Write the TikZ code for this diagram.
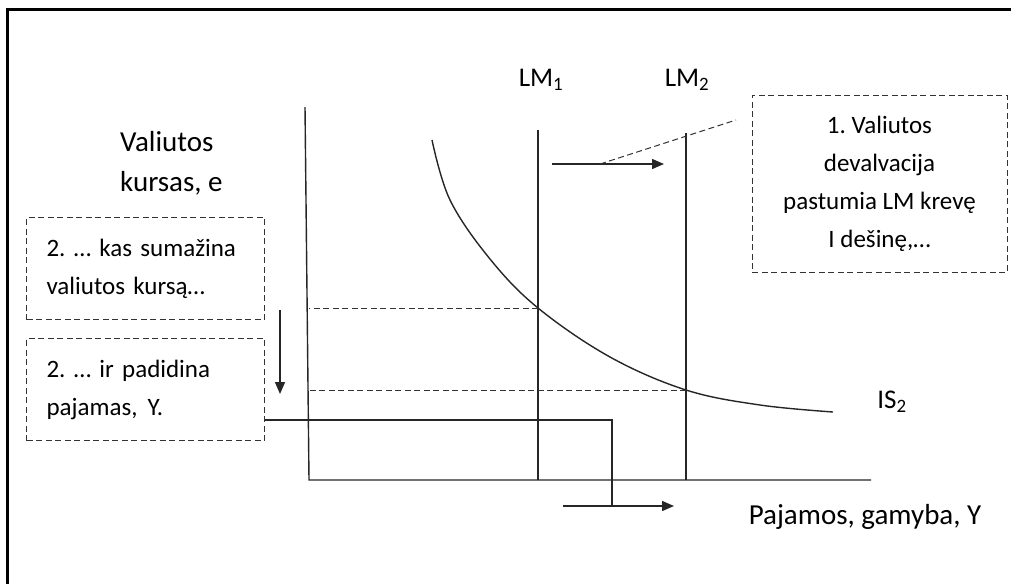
\documentclass[tikz,border=0pt]{standalone}
\usepackage{fontspec}
\setmainfont{Carlito}
\usetikzlibrary{arrows.meta, positioning}

\begin{document}
\frenchspacing
\begin{tikzpicture}[x=1pt, y=-1pt, every node/.style={font=\fontsize{27}{40}\selectfont, inner sep=0pt}]
        \tikzstyle{axis} = [line width=1.4pt, black!85]
        \tikzstyle{guide} = [line width=1pt, black!80, dash pattern=on 6pt off 3.5pt]
        \tikzstyle{note} = [rectangle, draw=black!80, line width=1pt, dash pattern=on 6pt off 3.5pt, inner xsep=20pt, font=\fontsize{25}{38}\selectfont]
        \tikzstyle{label} = [font=\fontsize{29}{40}\selectfont]
        \tikzstyle{arrow} = [line width=1.4pt, black!85, -{Triangle[length=12pt, width=10pt]}]

        \useasboundingbox (0,0) rectangle (1011,584);
        % Frame
        \draw[line width=2.2pt] (7.5,584) -- (7.5,9.5) -- (1011,9.5);

        % Axes
        \coordinate (ytop) at (305,107);
        \coordinate (O) at (309,480);
        \coordinate (xend) at (871,480);
        \draw [axis] (ytop) -- (O) -- (xend);
        \node (ylabel) [label, anchor=west, align=left] at (120,163) {Valiutos\\kursas, e};
        \node (xlabel) [label] at (865,517) {Pajamos, gamyba, Y};

        % LM curves
        \node (lm1) at (541,80) {LM\textsubscript{1}};
        \node (lm2) at (687,80) {LM\textsubscript{2}};
        \coordinate (lm1top) at (538,130);
        \coordinate (lm2top) at (686,133);
        \draw [axis] (lm1top) -- (lm1top |- O);
        \draw [axis] (lm2top) -- (lm2top |- O);

        % IS curve
        \coordinate (E1) at (538,308);
        \coordinate (E2) at (686,390);
        \draw [axis] plot[smooth, tension=0.6] coordinates {(432,140) (450,200) (490,259) (E1) (610,357) (E2) (760,405) (833,412)};
        \node (is2) at (892,402) {IS\textsubscript{2}};
        \draw [guide] (E1) -- (O |- E1);
        \draw [guide] (E2) -- (O |- E2);

        % Notes
        \node (shift) [note, minimum width=255pt, minimum height=177pt, align=center] at (879.5,183.5) {1. Valiutos\\devalvacija\\pastumia LM krevę\\I dešinę,…};
        \node (rate) [note, text width=198pt, minimum height=102pt, align=left] at (145.5,268.5) {2. … kas sumažina\\valiutos kursą…};
        \node (income) [note, text width=198pt, minimum height=102pt, align=left, below=18pt of rate] {2. … ir padidina\\pajamas,\hspace{10pt}Y.};

        % Arrows
        \coordinate (s0) at (552,164);
        \coordinate (s1) at (664,164);
        \coordinate (tip) at (600,164);
        \coordinate (pend) at (736,120);
        \draw [arrow] (s0) -- (s1);
        \draw [guide] (tip) -- (pend);
        \coordinate (d0) at (280,310);
        \coordinate (d1) at (280,394);
        \draw [arrow] (d0) -- (d1);
        \coordinate (ycut) at (612,420);
        \coordinate (ybot) at (612,506);
        \draw [axis] (income.east |- ycut) -| (ybot);
        \coordinate (y0) at (563,506);
        \coordinate (y1) at (674,506);
        \draw [arrow] (y0) -- (y1);
    \end{tikzpicture}
\end{document}
